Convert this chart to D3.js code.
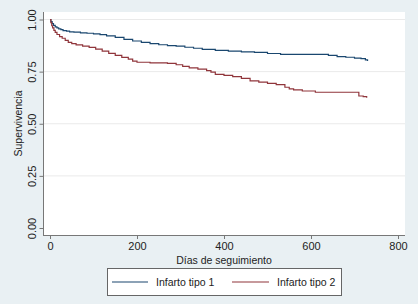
<!DOCTYPE html>
<html><head><meta charset="utf-8">
<script src="https://cdn.jsdelivr.net/npm/d3@7"></script>
<style>
html,body{margin:0;padding:0;background:#e9f0f3;}
svg{display:block;font-family:"Liberation Sans",Arial,sans-serif;}
</style></head>
<body>
<svg id="c" width="418" height="304"></svg>
<script>
const seriesNames = ["Infarto tipo 1", "Infarto tipo 2"];
const tipo1Days = [0,2,5,8,12,16,20,25,30,38,45,55,70,85,100,115,130,150,170,190,210,230,250,270,290,310,330,350,380,410,440,470,500,530,560,600,640,660,680,700,715,725,730];
const tipo1Surv = [1.00,0.99,0.98,0.972,0.965,0.96,0.955,0.951,0.947,0.944,0.941,0.939,0.936,0.934,0.931,0.927,0.921,0.914,0.905,0.897,0.890,0.884,0.879,0.875,0.872,0.867,0.862,0.857,0.852,0.848,0.845,0.842,0.837,0.833,0.833,0.833,0.828,0.822,0.819,0.815,0.812,0.806,0.801];
const tipo2Days = [0,2,4,6,9,12,16,22,28,35,42,50,60,75,90,105,120,135,150,165,180,190,200,230,270,290,305,320,340,360,370,380,400,420,440,460,480,500,520,540,550,560,580,610,650,700,710,720,728];
const tipo2Surv = [1.00,0.985,0.97,0.96,0.948,0.938,0.928,0.918,0.91,0.9,0.89,0.884,0.878,0.872,0.866,0.858,0.848,0.838,0.828,0.818,0.81,0.8,0.795,0.792,0.79,0.783,0.775,0.768,0.762,0.755,0.748,0.737,0.732,0.726,0.718,0.706,0.700,0.694,0.688,0.675,0.667,0.662,0.657,0.651,0.651,0.651,0.633,0.630,0.625];
const xTicks = [0,200,400,600,800];
const yTicks = [0,0.25,0.5,0.75,1];
const xTitle = "Días de seguimiento";
const yTitle = "Supervivencia";
const colors = ["#1a476f","#90353b"];

const svg = d3.select("#c");
const x = d3.scaleLinear().domain([0,800]).range([50,398]);
const y = d3.scaleLinear().domain([0,1]).range([228,19.5]);

// plot region
svg.append("rect").attr("x",43).attr("y",12).attr("width",362).attr("height",223).attr("fill","#ffffff");

// gridlines
svg.append("g").selectAll("line").data(yTicks.filter(d=>d>0)).join("line")
  .attr("x1",43.5).attr("x2",405).attr("y1",d=>y(d)).attr("y2",d=>y(d))
  .attr("stroke","#eaeaea").attr("stroke-width",1);

// y axis
const yAxis = d3.axisLeft(y).tickValues(yTicks).tickFormat(d3.format(".2f")).tickSize(4).tickSizeOuter(0);
const gy = svg.append("g").attr("transform","translate(43.5,0)").call(yAxis);
gy.select(".domain").attr("d","M0,12V235").attr("stroke","#777");
gy.selectAll(".tick line").attr("stroke","#777");
gy.selectAll(".tick text").attr("transform","rotate(-90)").attr("x",0).attr("y",-8)
  .attr("dy",0).attr("text-anchor","middle").attr("font-size",11).attr("fill","#222")
  .attr("font-family","Liberation Sans, Arial, sans-serif");

// x axis
const xAxis = d3.axisBottom(x).tickValues(xTicks).tickSize(4).tickSizeOuter(0);
const gx = svg.append("g").attr("transform","translate(0,235)").call(xAxis);
gx.select(".domain").attr("d","M43,0.5H405").attr("stroke","#777");
gx.selectAll(".tick line").attr("stroke","#777");
gx.selectAll(".tick text").attr("y",7).attr("font-size",11).attr("fill","#222")
  .attr("font-family","Liberation Sans, Arial, sans-serif");

// titles
svg.append("text").attr("x",224).attr("y",264).attr("text-anchor","middle")
  .attr("font-size",10.5).attr("fill","#222").text(xTitle);
svg.append("text").attr("transform","translate(22,123.5) rotate(-90)").attr("text-anchor","middle")
  .attr("font-size",10.5).attr("fill","#222").text(yTitle);

// curves
const series = [
  tipo1Days.map((d,i)=>[d,tipo1Surv[i]]),
  tipo2Days.map((d,i)=>[d,tipo2Surv[i]])
];
const line = d3.line().x(d=>x(d[0])).y(d=>y(d[1])).curve(d3.curveStepAfter);
svg.append("g").selectAll("path").data(series).join("path")
  .attr("d",line).attr("fill","none").attr("stroke",(d,i)=>colors[i]).attr("stroke-width",1.2);

// legend
const lg = svg.append("g");
lg.append("rect").attr("x",107.5).attr("y",268.5).attr("width",234).attr("height",27)
  .attr("fill","#fff").attr("stroke","#666").attr("stroke-width",1);
const items = [{x1:112,x2:148,tx:156},{x1:232,x2:269,tx:277}];
items.forEach((it,i)=>{
  lg.append("line").attr("x1",it.x1).attr("x2",it.x2).attr("y1",282).attr("y2",282)
    .attr("stroke",colors[i]).attr("stroke-width",1.2);
  lg.append("text").attr("x",it.tx).attr("y",286).attr("font-size",10.5).attr("fill","#222").text(seriesNames[i]);
});
</script>
</body></html>
